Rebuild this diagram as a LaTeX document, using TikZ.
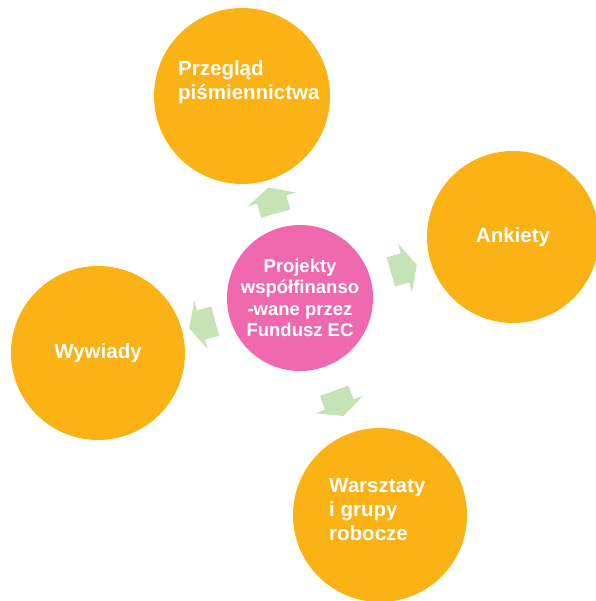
\documentclass[tikz,border=0pt]{standalone}
\usepackage{fontspec}
\setmainfont{Liberation Sans}
\usepackage{xcolor}
\definecolor{amber}{HTML}{FAB214}
\definecolor{rose}{HTML}{F069AE}
\definecolor{mint}{HTML}{C5E3B4}
\usetikzlibrary{calc,shapes.arrows}
\tikzset{
  every picture/.style={x=1pt, y=1pt},
  topic/.style={circle, fill=amber, text=white, inner sep=0pt, minimum size=#1,
    font=\bfseries\fontsize{20.5}{24}\selectfont},
  topic/.default=174pt,
  hub/.style={circle, fill=rose, text=white, align=center, inner sep=0pt, minimum size=146pt,
    font=\bfseries\fontsize{18.5}{21.5}\selectfont},
  caption/.style={text=white, align=left, inner sep=0pt, font=\bfseries\fontsize{20.5}{24}\selectfont},
  blockarrow/.style={single arrow, fill=mint, inner xsep=0pt, inner ysep=15pt, minimum height=27pt,
    single arrow head extend=10pt, single arrow tip angle=128, sloped, allow upside down},
}

\begin{document}
\begin{tikzpicture}
  \useasboundingbox (0,0) rectangle (595,-601);
  % hub and the four methods around it
  \node[hub] (project) at (300,-298) {Projekty\\współfinanso\\-wane przez\\Fundusz EC};
  \node[topic=176pt] (review) at (242,-96) {};
  \node[topic=172pt] (survey) at (513,-237) {Ankiety};
  \node[topic] (interview) at (98,-353) {Wywiady};
  \node[topic] (workshop) at (380,-515) {};
  \node[caption, anchor=base west] (reviewtext) at ($(review)+(-64,-4)$) {Przegląd\\piśmiennictwa};
  \node[caption, anchor=base west] (workshoptext) at ($(workshop)+(-51,-25)$) {Warsztaty\\i grupy\\robocze};
  % block arrows
  \foreach \target in {review, survey, interview, workshop}
    \path (project) -- node[blockarrow] {} (\target);
\end{tikzpicture}
\end{document}
